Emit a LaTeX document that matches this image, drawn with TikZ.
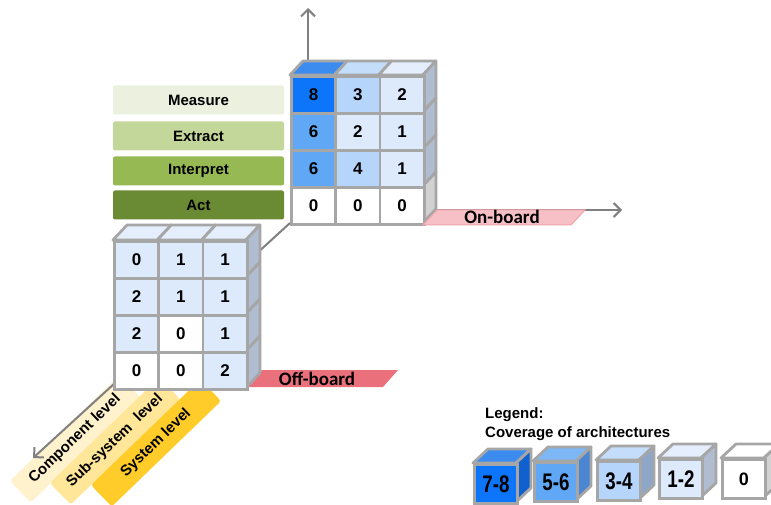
\documentclass[tikz,border=0pt]{standalone}
\usepackage{fontspec}
\setmainfont{Liberation Sans}
\newfontfamily\calib{Carlito}
\usetikzlibrary{arrows.meta}
\definecolor{bgray}{RGB}{166,166,166}
\definecolor{axgray}{RGB}{128,128,128}
\definecolor{c78}{RGB}{13,117,250}
\definecolor{c78top}{RGB}{60,140,240}
\definecolor{c78side}{RGB}{16,96,208}
\definecolor{c56}{RGB}{96,168,246}
\definecolor{c56top}{RGB}{125,183,246}
\definecolor{c56side}{RGB}{74,134,210}
\definecolor{c34}{RGB}{182,213,250}
\definecolor{c34top}{RGB}{195,221,250}
\definecolor{c34side}{RGB}{142,166,200}
\definecolor{c12}{RGB}{221,234,252}
\definecolor{c12top}{RGB}{228,238,252}
\definecolor{c12side}{RGB}{176,189,208}
\definecolor{c0side}{RGB}{210,210,210}
\definecolor{measure}{RGB}{235,241,222}
\definecolor{extract}{RGB}{196,215,155}
\definecolor{interpret}{RGB}{151,185,83}
\definecolor{act}{RGB}{106,138,52}
\definecolor{compc}{RGB}{255,242,204}
\definecolor{subc}{RGB}{255,230,153}
\definecolor{sysc}{RGB}{255,204,41}
\definecolor{onb}{RGB}{246,192,198}
\definecolor{onbdraw}{RGB}{240,165,172}
\definecolor{offb}{RGB}{234,112,124}
\tikzset{
 axis/.style={draw=axgray, line width=2pt, -{Straight Barb[length=7pt,width=14pt]}},
 lbl/.style={rounded corners=2pt, minimum width=171pt, minimum height=29pt, inner sep=0pt, font=\fontsize{15}{15}\selectfont\bfseries},
 band/.style={rounded corners=3pt, minimum width=152pt, minimum height=30pt, inner sep=0pt, rotate=44, font=\fontsize{15}{15}\selectfont\bfseries},
 cell/.style={draw=bgray, line width=2.8pt, minimum width=44.3pt, minimum height=37pt, inner sep=0pt, anchor=north west, font=\fontsize{17}{17}\selectfont\bfseries},
 face/.style={draw=bgray, line width=2.8pt, line join=round},
 board/.style={font=\calib\fontsize{19}{19}\selectfont\bfseries},
 legtxt/.style={anchor=base west, inner sep=0pt, font=\fontsize{15}{15}\selectfont\bfseries},
}
\newcommand\legcube[8]{%
 \path[face, fill=#5] (#2,#3) -- ++(15,-14) -- ++(43,0) -- ++(-15,14) -- cycle;
 \path[face, fill=#6] (#2+43,#3) -- ++(15,-14) -- ++(0,39) -- ++(-15,14) -- cycle;
 \node[draw=bgray, fill=#4, line width=2.8pt, minimum width=43pt, minimum height=39pt, anchor=north west, inner sep=0pt, font=#8] (#1) at (#2,#3) {#7};
}
\newcommand\squash[1]{\scalebox{0.78}[1]{#1}}
\begin{document}
\begin{tikzpicture}[x=1pt,y=-1pt]
\useasboundingbox (0,0) rectangle (771,505);
\fill[white] (0,0) rectangle (771,505);

% left labels
\node[lbl, fill=measure] (measure) at (198.5,100) {Measure};
\node[lbl, fill=extract] (extract) at (198.5,136) {Extract};
\node[lbl, fill=interpret] (interpret) at (198.5,171) {Interpret};
\node[lbl, fill=act] (act) at (198.5,205) {Act};

% level bands
\node[band, fill=compc] (comp) at (75,439) {Component level};
\node[band, fill=subc] (subsys) at (115,441) {Sub-system\hspace{0.3em} level};
\node[band, fill=sysc] (sys) at (156,443) {System level};

% axes
\coordinate (vA) at (308,60);
\coordinate (vB) at (308,8);
\coordinate (hA) at (436,210);
\coordinate (hB) at (622,210);
\coordinate (dA) at (290,223);
\coordinate (dB) at (33,458);
\draw[axis] (vA) -- (vB);
\draw[axis] (hA) -- (hB);
\draw[axis] (dA) -- (dB);

% top block
\foreach \c/\col in {0/c78top,1/c34top,2/c12top}
  \path[face, fill=\col] ({290+\c*44.3},75) -- ++(13,-14) -- ++(44.3,0) -- ++(-13,14) -- cycle;
\foreach \r/\col in {0/c12side,1/c12side,2/c12side,3/c0side}
  \path[face, fill=\col] (422.9,{75+\r*37}) -- ++(13,-14) -- ++(0,37) -- ++(-13,14) -- cycle;
\foreach \r/\row in {0/{c78/8,c34/3,c12/2},1/{c56/6,c12/2,c12/1},2/{c56/6,c34/4,c12/1},3/{white/0,white/0,white/0}}
  \foreach \col/\t [count=\c from 0] in \row
    \node[cell, fill=\col] (T\r\c) at ({290+\c*44.3},{75+\r*37}) {\t};

% on-board
\path[fill=onb, draw=onbdraw, line width=1pt] (423,225) -- (437,210) -- (585,210) -- (571,225) -- cycle;
\node[board] (onboard) at (502,217) {On-board};

% off-board
\path[fill=offb] (247,387) -- (262,370) -- (398,370) -- (383,387) -- cycle;
\node[board] (offboard) at (317,378.5) {Off-board};

% bottom block
\foreach \c in {0,1,2}
  \path[face, fill=c12top] ({113+\c*44.3},240) -- ++(14,-15) -- ++(44.3,0) -- ++(-14,15) -- cycle;
\foreach \r in {0,1,2,3}
  \path[face, fill=c12side] (245.9,{240+\r*37}) -- ++(14,-15) -- ++(0,37) -- ++(-14,15) -- cycle;
\foreach \r/\row in {0/{c12/0,c12/1,c12/1},1/{c12/2,c12/1,c12/1},2/{c12/2,white/0,c12/1},3/{white/0,white/0,c12/2}}
  \foreach \col/\t [count=\c from 0] in \row
    \node[cell, fill=\col] (B\r\c) at ({113+\c*44.3},{240+\r*37}) {\t};

% legend
\node[legtxt] (legend) at (485,418) {Legend:};
\node[legtxt] (coverage) at (485,437) {Coverage of architectures};
\legcube{L78}{473}{463}{c78}{c78top}{c78side}{\squash{7-8}}{\fontsize{24}{24}\selectfont\bfseries}
\legcube{L56}{533}{461}{c56}{c56top}{c56side}{\squash{5-6}}{\fontsize{24}{24}\selectfont\bfseries}
\legcube{L34}{596}{460}{c34}{c34top}{c34side}{\squash{3-4}}{\fontsize{24}{24}\selectfont\bfseries}
\legcube{L12}{658}{458}{c12}{c12top}{c12side}{\squash{1-2}}{\fontsize{24}{24}\selectfont\bfseries}
\legcube{L0}{721}{458}{white}{white}{c0side}{0}{\fontsize{18}{18}\selectfont\bfseries}
\end{tikzpicture}
\end{document}
